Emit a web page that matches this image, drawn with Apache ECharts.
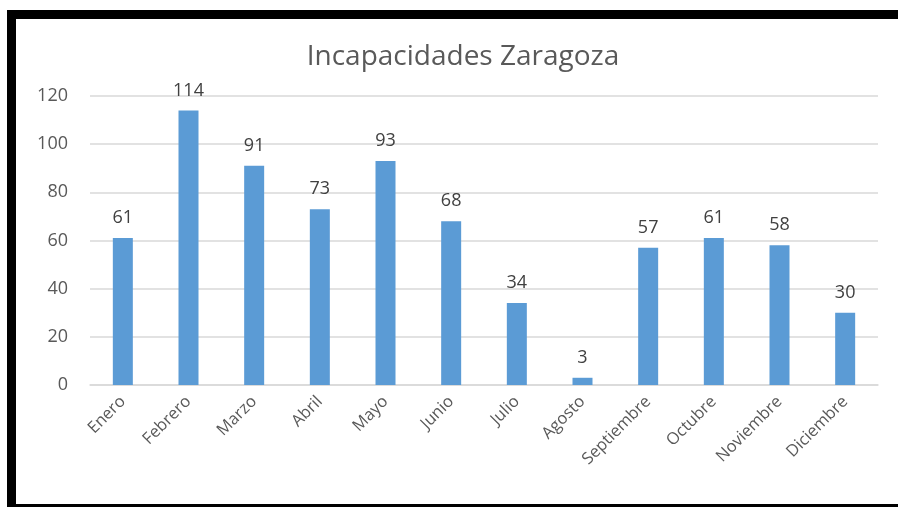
<!DOCTYPE html>
<html>
<head>
<meta charset="utf-8">
<script src="https://cdn.jsdelivr.net/npm/echarts@6/dist/echarts.min.js"></script>
<style>
  html, body { margin: 0; padding: 0; background: #fff; }
  #frame {
    position: absolute; left: 7px; top: 10px; width: 891px; height: 497px;
    border-top: 9px solid #000; border-left: 9px solid #000; border-bottom: 3px solid #000;
    box-sizing: border-box;
  }
  #chart { position: absolute; left: 0; top: 0; width: 898px; height: 507px; }
</style>
</head>
<body>
<div id="chart"></div>
<div id="frame"></div>
<script>
const months = ['Enero', 'Febrero', 'Marzo', 'Abril', 'Mayo', 'Junio', 'Julio', 'Agosto', 'Septiembre', 'Octubre', 'Noviembre', 'Diciembre']
const incapacidades = [61, 114, 91, 73, 93, 68, 34, 3, 57, 61, 58, 30]

const font = '"Open Sans", sans-serif'
const chart = echarts.init(document.getElementById('chart'))
chart.setOption({
  animation: false,
  title: {
    text: 'Incapacidades Zaragoza',
    left: 458,
    top: 38,
    textAlign: 'center',
    textStyle: { fontFamily: font, fontSize: 28, fontWeight: 'normal', color: '#595959' }
  },
  grid: { left: 90, right: 20, top: 96, bottom: 122 },
  xAxis: {
    type: 'category',
    data: months,
    axisLine: { lineStyle: { color: '#d9d9d9', width: 1.5 } },
    axisTick: { show: false },
    axisLabel: {
      rotate: 45, margin: 14,
      fontFamily: font, fontSize: 16.5, color: '#595959'
    }
  },
  yAxis: {
    type: 'value',
    min: 0, max: 120, interval: 20,
    axisLine: { show: false },
    axisTick: { show: false },
    splitLine: { lineStyle: { color: '#d9d9d9', width: 1.5 } },
    axisLabel: { margin: 22, fontFamily: font, fontSize: 18, color: '#595959' }
  },
  series: [{
    type: 'bar',
    data: incapacidades,
    barWidth: 20,
    itemStyle: { color: '#5b9bd5' },
    label: {
      show: true, position: 'top', distance: 11,
      fontFamily: font, fontSize: 18, color: '#404040'
    }
  }]
})
</script>
</body>
</html>
